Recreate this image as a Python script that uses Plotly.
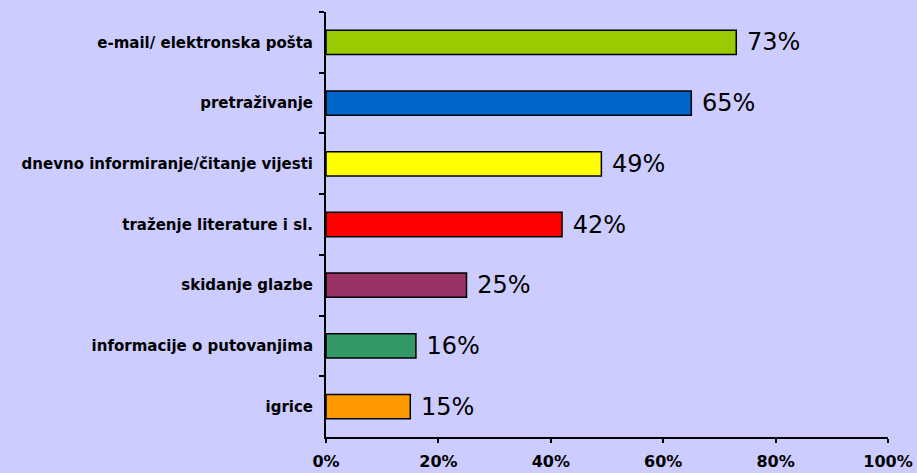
import plotly.graph_objects as go

categories = ["e-mail/ elektronska pošta", "pretraživanje", "dnevno informiranje/čitanje vijesti",
              "traženje literature i sl.", "skidanje glazbe", "informacije o putovanjima", "igrice"]
values = [73, 65, 49, 42, 25, 16, 15]
colors = ["#99CC00", "#0066CC", "#FFFF00", "#FF0000", "#993366", "#339966", "#FF9900"]
tick_vals = [0, 20, 40, 60, 80, 100]
tick_text = ["0%", "20%", "40%", "60%", "80%", "100%"]

fig = go.Figure(go.Bar(
    y=categories, x=values, orientation="h",
    marker=dict(color=colors, line=dict(color="black", width=1.5)),
    width=0.4,
    text=[f" {v}%" for v in values], textposition="outside",
    textfont=dict(family="DejaVu Sans", size=24, color="black"),
    cliponaxis=False, constraintext="none",
))

fig.update_layout(
    width=917, height=473,
    margin=dict(l=326, r=29, t=12, b=36),
    paper_bgcolor="#CCCCFF", plot_bgcolor="#CCCCFF",
    showlegend=False,
    xaxis=dict(range=[0, 100], tickvals=tick_vals, ticktext=tick_text, automargin=False,
               showgrid=False, zeroline=False, showline=True, linecolor="black", linewidth=2,
               ticks="outside", ticklen=4, tickwidth=2, tickcolor="black", ticklabelstandoff=5,
               tickfont=dict(family="DejaVu Sans", size=16, color="black", weight="bold")),
    yaxis=dict(autorange="reversed", showgrid=False, zeroline=False, showline=True, automargin=False,
               linecolor="black", linewidth=2, ticks="outside", ticklen=5, tickwidth=2,
               tickcolor="black", tickson="boundaries", ticklabelstandoff=8,
               tickfont=dict(family="DejaVu Sans", size=15, color="black", weight="bold")),
)

fig.write_html("out.html", config={"displayModeBar": False},
               post_script="document.body.style.margin='0';")
